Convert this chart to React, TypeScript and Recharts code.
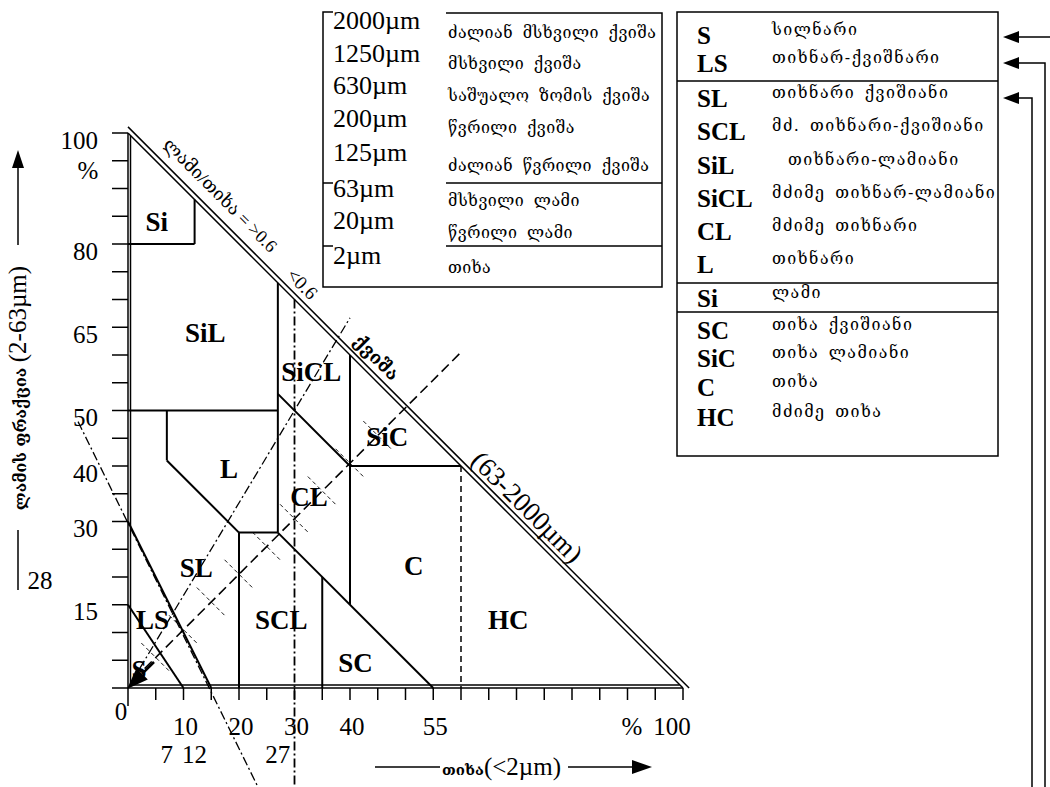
import React from "react";
import { ScatterChart, Scatter, XAxis, YAxis, ReferenceLine } from "recharts";

// clay % on x, silt (2-63µm) % on y
const xTickValues = [0, 5, 7, 10, 12, 15, 20, 25, 27, 30, 35, 40, 45, 50, 55, 60, 65, 70, 75, 80, 85, 90, 95, 100];
const xMainLabels = [10, 20, 30, 40, 55];
const xExtraLabels = [7, 12, 27];
const yTickValues = [0, 5, 10, 15, 20, 25, 30, 35, 40, 45, 50, 55, 60, 65, 70, 75, 80, 85, 90, 95, 100];
const yLabels = [100, 80, 65, 50, 40, 30, 15];

// texture class boundaries, [clay, silt] end points
const solidBounds = [
  [[0, 80], [12, 80]],
  [[12, 80], [12, 88]],
  [[0, 50], [27, 50]],
  [[27, 73], [27, 28]],
  [[7, 50], [7, 41]],
  [[7, 41], [20, 28]],
  [[20, 28], [27, 28]],
  [[20, 28], [20, 0]],
  [[27, 53], [40, 40]],
  [[40, 60], [40, 15]],
  [[40, 40], [60, 40]],
  [[27, 28], [55, 0]],
  [[35, 20], [35, 0]],
  [[0, 30], [15, 0]],
  [[0, 15], [10, 0]],
];
const outline = [
  [[0, 100], [100, 0]],
  [[0, 101.1], [101.1, 0]],
  [[0.45, 0.55], [0.45, 99.5]],
  [[0.45, 0.55], [99.4, 0.55]],
];
const dashedBounds = [[[60, 40], [60, 0]]];
const dashDotLines = [
  [[30, 70], [30, -18]],
  [[-9, 48], [23.5, -18]],
  [[2.1, 3.5], [40, 66.7]],
];
const diagonal = [[3, 3.5], [60, 60.5]];
const crossAt = [5, 10, 15, 20, 25, 30, 35, 40, 45];

const regionNames = ["Si", "SiL", "SiCL", "L", "CL", "SiC", "C", "HC", "SC", "SCL", "SL", "LS", "S"];
const regionClay = [5.2, 13.9, 33, 18.2, 32.6, 46.7, 51.5, 68.5, 41, 27.6, 12.3, 4.4, 2];
const regionSilt = [84, 64, 57, 39.5, 34.4, 45.2, 22, 12.2, 4.5, 12.2, 21.6, 12.3, 3.2];

const noteTexts = ["ლამი/თიხა = >0.6", "<0.6", "ქვიშა", "(63-2000µm)"];
const noteClay = [16.6, 31.4, 44.7, 71.9];
const noteSilt = [88.8, 72.8, 59.5, 32.6];

const grainSizes = ["2000µm", "1250µm", "630µm", "200µm", "125µm", "63µm", "20µm", "2µm"];
const grainNames = [
  "ძალიან მსხვილი ქვიშა",
  "მსხვილი ქვიშა",
  "საშუალო ზომის ქვიშა",
  "წვრილი ქვიშა",
  "ძალიან წვრილი ქვიშა",
  "მსხვილი ლამი",
  "წვრილი ლამი",
  "თიხა",
];
const legendCodes = ["S", "LS", "SL", "SCL", "SiL", "SiCL", "CL", "L", "Si", "SC", "SiC", "C", "HC"];
const legendNames = [
  "სილნარი",
  "თიხნარ-ქვიშნარი",
  "თიხნარი ქვიშიანი",
  "მძ. თიხნარი-ქვიშიანი",
  "თიხნარი-ლამიანი",
  "მძიმე თიხნარ-ლამიანი",
  "მძიმე თიხნარი",
  "თიხნარი",
  "ლამი",
  "თიხა ქვიშიანი",
  "თიხა ლამიანი",
  "თიხა",
  "მძიმე თიხა",
];

const serif = "'Liberation Serif', 'Times New Roman', serif";
const geo = "'DejaVu Serif', 'DejaVu Sans', serif";

const regionLabels = regionNames.map((name, i) => ({ clay: regionClay[i], silt: regionSilt[i], name }));
const notes = noteTexts.map((text, i) => ({ clay: noteClay[i], silt: noteSilt[i], text }));
const cornerPoint = [{ clay: 0, silt: 0 }];

const seg = (s: number[][]) => [
  { x: s[0][0], y: s[0][1] },
  { x: s[1][0], y: s[1][1] },
];

const renderXTick = (props: any) => {
  const { x, y, payload } = props;
  const v = payload.value;
  return (
    <g>
      {v % 5 === 0 && <line x1={x} y1={y} x2={x} y2={y + (v === 0 ? 18 : 12)} stroke="#000" strokeWidth={1.5} />}
      {v === 0 && (
        <text x={x - 7} y={y + 32} textAnchor="middle" fontSize={25} fontFamily={serif}>
          0
        </text>
      )}
      {xMainLabels.includes(v) && (
        <text x={x + 2} y={y + 47} textAnchor="middle" fontSize={25} fontFamily={serif}>
          {v}
        </text>
      )}
      {v === 100 && (
        <text x={x - 11} y={y + 47} textAnchor="middle" fontSize={25} fontFamily={serif}>
          <tspan x={x - 51}>%</tspan>
          <tspan x={x - 11}>100</tspan>
        </text>
      )}
      {xExtraLabels.includes(v) && (
        <text x={x} y={y + 75} textAnchor="middle" fontSize={25} fontFamily={serif}>
          {v}
        </text>
      )}
    </g>
  );
};

const renderYTick = (props: any) => {
  const { x, y, payload } = props;
  const v = payload.value;
  return (
    <g>
      <line x1={x - 16} y1={y} x2={x} y2={y} stroke="#000" strokeWidth={1.5} />
      {yLabels.includes(v) && (
        <text x={x - 30} y={y + 7} textAnchor="end" dominantBaseline="central" fontSize={25} fontFamily={serif}>
          {v}
        </text>
      )}
      {v === 100 && (
        <text x={x - 40} y={y + 37} textAnchor="middle" dominantBaseline="central" fontSize={25} fontFamily={serif}>
          %
        </text>
      )}
    </g>
  );
};

const renderRegionLabel = (props: any) => {
  const { cx, cy, payload } = props;
  return (
    <text x={cx} y={cy} textAnchor="middle" dominantBaseline="central" fontSize={27} fontWeight="bold" fontFamily={serif}>
      {payload.name}
    </text>
  );
};

const noteSize = [18, 19, 18, 27];
const renderNote = (props: any) => {
  const { cx, cy, payload, index } = props;
  const i = noteTexts.indexOf(payload.text);
  return (
    <text
      transform={`translate(${cx},${cy}) rotate(45)`}
      textAnchor="middle"
      dominantBaseline="central"
      fontSize={noteSize[i >= 0 ? i : index] || 18}
      fontWeight={i === 2 ? "bold" : "normal"}
      fontFamily={serif + ", " + geo}
    >
      {payload.text}
    </text>
  );
};

const renderCornerArrow = (props: any) => {
  const { cx, cy } = props;
  const k = Math.SQRT1_2;
  const hl = 20;
  const hw = 8;
  const bx = cx + hl * k;
  const by = cy - hl * k;
  return (
    <g>
      <line x1={cx + 26} y1={cy - 26} x2={bx} y2={by} stroke="#000" strokeWidth={2.5} />
      <polygon points={`${cx - 1},${cy + 1} ${bx + hw * k},${by + hw * k} ${bx - hw * k},${by - hw * k}`} fill="#000" />
    </g>
  );
};

const grainY = [20, 53, 85, 118, 152, 188, 220, 255];
const grainNameY = [32, 63, 95, 127, 165, 200, 232, 267];
const legendY = [35, 63, 98, 131, 165, 198, 231, 264, 298, 330, 358, 387, 417];

export default function App() {
  return (
    <div
      style={{
        position: "absolute",
        left: 0,
        top: 0,
        width: 1050,
        height: 787,
        background: "#fff",
        fontFamily: serif,
        overflow: "hidden",
      }}
    >
      <ScatterChart width={1050} height={787} margin={{ top: 133, right: 367, bottom: 59, left: 0 }}>
        <XAxis
          type="number"
          dataKey="clay"
          domain={[0, 100]}
          ticks={xTickValues}
          interval={0}
          tickSize={0}
          tickMargin={0}
          tickLine={false}
          axisLine={{ stroke: "#000", strokeWidth: 1.5 }}
          tick={renderXTick}
          height={40}
        />
        <YAxis
          type="number"
          dataKey="silt"
          domain={[0, 100]}
          ticks={yTickValues}
          interval={0}
          tickSize={0}
          tickMargin={0}
          tickLine={false}
          axisLine={{ stroke: "#000", strokeWidth: 1.5 }}
          tick={renderYTick}
          width={128}
        />
        {outline.map((s, i) => (
          <ReferenceLine key={`o${i}`} segment={seg(s)} stroke="#000" strokeWidth={1.5} ifOverflow="visible" />
        ))}
        {solidBounds.map((s, i) => (
          <ReferenceLine key={`b${i}`} segment={seg(s)} stroke="#000" strokeWidth={2} ifOverflow="visible" />
        ))}
        {dashedBounds.map((s, i) => (
          <ReferenceLine key={`d${i}`} segment={seg(s)} stroke="#000" strokeWidth={1.5} strokeDasharray="6 4" ifOverflow="visible" />
        ))}
        {dashDotLines.map((s, i) => (
          <ReferenceLine
            key={`dd${i}`}
            segment={seg(s)}
            stroke="#000"
            strokeWidth={i === 0 ? 1.8 : 1.3}
            strokeDasharray="9 3 2 3"
            ifOverflow="visible"
          />
        ))}
        <ReferenceLine segment={seg(diagonal)} stroke="#000" strokeWidth={1.6} strokeDasharray="10 5" ifOverflow="visible" />
        {crossAt.map((c) => (
          <ReferenceLine
            key={`c${c}`}
            segment={seg([
              [c - 2.6, c + 0.5 + 2.6],
              [c + 2.6, c + 0.5 - 2.6],
            ])}
            stroke="#000"
            strokeWidth={0.9}
            strokeDasharray="4 3"
            ifOverflow="visible"
          />
        ))}
        <Scatter data={regionLabels} shape={renderRegionLabel} isAnimationActive={false} />
        <Scatter data={notes} shape={renderNote} isAnimationActive={false} />
        <Scatter data={cornerPoint} shape={renderCornerArrow} isAnimationActive={false} />
      </ScatterChart>

      <svg width={1050} height={787} style={{ position: "absolute", left: 0, top: 0, pointerEvents: "none" }}>
        {/* grain size table */}
        <path d="M333,12 H323 V287 H662 V13 H446 M323,183 H333 M323,246 H333 M446,183 H662 M446,246 H662" fill="none" stroke="#000" strokeWidth={1.5} />
        {grainSizes.map((g, i) => (
          <text key={g} x={333} y={grainY[i]} dominantBaseline="central" fontSize={26} fontFamily={serif}>
            {g}
          </text>
        ))}
        {grainNames.map((g, i) => (
          <text
            key={`gn${i}`}
            x={448}
            y={grainNameY[i]}
            dominantBaseline="central"
            fontSize={16}
            fontFamily={geo}
            letterSpacing={0.5}
            wordSpacing={4}
          >
            {g}
          </text>
        ))}

        {/* legend */}
        <rect x={677} y={12} width={321} height={444} fill="none" stroke="#000" strokeWidth={1.5} />
        <path d="M677,81 H998 M677,283 H998 M677,312 H998" stroke="#000" strokeWidth={1.5} />
        {legendCodes.map((c, i) => (
          <text key={c} x={697} y={legendY[i]} dominantBaseline="central" fontSize={25} fontWeight="bold" fontFamily={serif}>
            {c}
          </text>
        ))}
        {legendNames.map((n, i) => (
          <text
            key={`ln${i}`}
            x={c2x(i)}
            y={legendY[i] - 6}
            dominantBaseline="central"
            fontSize={16}
            fontFamily={geo}
            letterSpacing={1.5}
            wordSpacing={3}
          >
            {n}
          </text>
        ))}

        {/* arrows on the right */}
        <path d="M1050,37 H1018 M1045,787 V63 H1018 M1032,787 V98 H1018" fill="none" stroke="#000" strokeWidth={1.5} />
        <polygon points="1003,37 1019,31 1019,43" fill="#000" />
        <polygon points="1003,63 1019,57 1019,69" fill="#000" />
        <polygon points="1003,98 1019,92 1019,104" fill="#000" />

        {/* y axis title */}
        <polygon points="18,150 12,168 24,168" fill="#000" />
        <line x1={18} y1={168} x2={18} y2={245} stroke="#000" strokeWidth={1.5} />
        <text transform="translate(26,388) rotate(-90)" textAnchor="middle" fontFamily={serif}>
          <tspan fontFamily={geo} fontSize={16} fontWeight="bold">
            ლამის ფრაქცია{" "}
          </tspan>
          <tspan fontSize={25}>(2-63µm)</tspan>
        </text>
        <line x1={18} y1={530} x2={18} y2={590} stroke="#000" strokeWidth={1.5} />
        <text x={40} y={580} textAnchor="middle" dominantBaseline="central" fontSize={25} fontFamily={serif}>
          28
        </text>

        {/* x axis title */}
        <line x1={375} y1={767} x2={440} y2={767} stroke="#000" strokeWidth={1.5} />
        <text x={442} y={775} fontFamily={serif}>
          <tspan fontFamily={geo} fontSize={15} fontWeight="bold">
            თიხა
          </tspan>
          <tspan fontSize={25}>(&lt;2µm)</tspan>
        </text>
        <line x1={568} y1={767} x2={634} y2={767} stroke="#000" strokeWidth={1.5} />
        <polygon points="652,767 632,760 632,774" fill="#000" />
      </svg>
    </div>
  );
}

function c2x(i: number) {
  return legendCodes[i] === "SiL" ? 788 : 772;
}
